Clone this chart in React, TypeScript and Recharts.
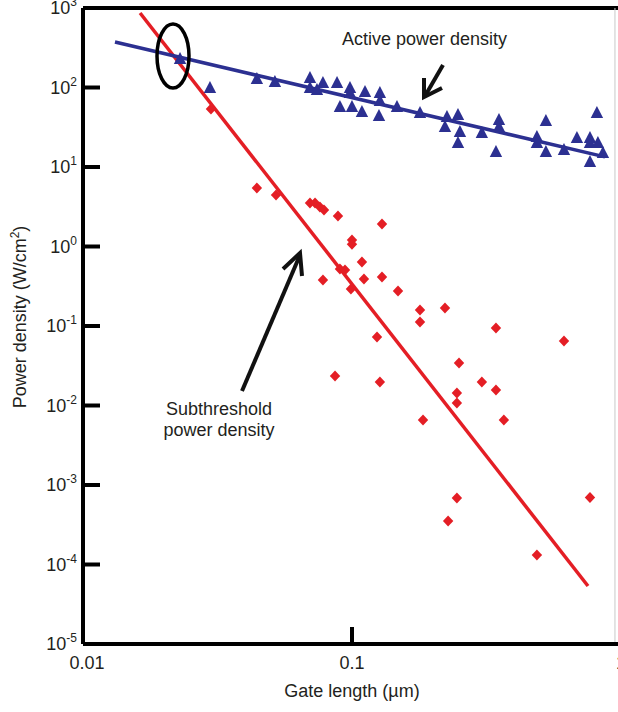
import React from 'react';
import { ScatterChart, Scatter, XAxis, YAxis, ReferenceLine } from 'recharts';

// ---- tick definitions ----
const xTicks = [0.01, 0.1, 1];
const xTickLabels = ['0.01', '0.1', '1'];
const yTicks = [1e-5, 1e-4, 1e-3, 1e-2, 1e-1, 1, 10, 100, 1000];
const yTickExponents = ['-5', '-4', '-3', '-2', '-1', '0', '1', '2', '3'];

// ---- subthreshold power density (red diamonds) ----
const subGateLength = [
  0.0299, 0.0443, 0.0522, 0.0698, 0.0729, 0.076, 0.0787, 0.0887, 0.1293, 0.1, 0.1,
  0.1089, 0.0902, 0.0942, 0.078, 0.1108, 0.1293, 0.0991, 0.1483, 0.179, 0.179, 0.1239,
  0.0865, 0.127, 0.2217, 0.343, 0.614, 0.25, 0.304, 0.343, 0.2455, 0.2455, 0.1837,
  0.367, 0.2455, 0.767, 0.2277, 0.487,
];
const subPower = [
  53.7, 5.44, 4.44, 3.53, 3.53, 3.14, 2.88, 2.42, 1.92, 1.21, 1.07,
  0.638, 0.521, 0.508, 0.379, 0.39, 0.413, 0.292, 0.275, 0.159, 0.112, 0.0728,
  0.0235, 0.0198, 0.168, 0.0944, 0.0648, 0.0343, 0.0198, 0.0157, 0.01436, 0.01075, 0.00657,
  0.00657, 6.86e-4, 6.96e-4, 3.52e-4, 1.32e-4,
];

// ---- active power density (blue triangles) ----
const actGateLength = [
  0.02295, 0.02965, 0.0443, 0.0517, 0.0698, 0.0698, 0.0741, 0.078, 0.088, 0.0983, 0.0983,
  0.1118, 0.0902, 0.1, 0.1089, 0.127, 0.127, 0.126, 0.147, 0.179, 0.2255, 0.2217,
  0.2478, 0.252, 0.2478, 0.304, 0.352, 0.352, 0.343, 0.487, 0.487, 0.526, 0.526,
  0.614, 0.686, 0.767, 0.767, 0.821, 0.814, 0.857, 0.767,
];
const actPower = [
  228, 98.6, 128, 117, 132, 98.6, 93, 114, 114, 98.6, 85.3,
  87.8, 56.8, 56.8, 49.2, 85.3, 67.7, 43.8, 56.8, 47.8, 42.6, 31.9,
  45.1, 27.6, 20, 26.8, 39, 31.9, 15.4, 23.8, 20, 37.9, 15.4,
  16.4, 23.2, 23.2, 20, 20, 47.8, 15, 11.6,
];

// ---- fitted trend lines ----
const subFitGateLength = [0.0163, 0.754];
const subFitPower = [865, 5.37e-5];
const actFitGateLength = [0.01315, 0.872];
const actFitPower = [373, 13.4];

const zip = (xs: number[], ys: number[]) => xs.map((x, i) => ({ x, y: ys[i] }));
const subData = zip(subGateLength, subPower);
const actData = zip(actGateLength, actPower);
const subFit = zip(subFitGateLength, subFitPower);
const actFit = zip(actFitGateLength, actFitPower);

const RED = '#e41e25';
const BLUE = '#2c3091';
const TEXT = '#231f20';
const FONT = '"Liberation Sans", Arial, Helvetica, sans-serif';

const Diamond = (p: any) => {
  const { cx, cy } = p;
  if (cx == null || cy == null) return <g />;
  return (
    <polygon
      points={`${cx},${cy - 5.5} ${cx + 5.2},${cy} ${cx},${cy + 5.5} ${cx - 5.2},${cy}`}
      fill={RED}
    />
  );
};

const Triangle = (p: any) => {
  const { cx, cy } = p;
  if (cx == null || cy == null) return <g />;
  return (
    <polygon
      points={`${cx},${cy - 7} ${cx + 6.2},${cy + 5} ${cx - 6.2},${cy + 5}`}
      fill={BLUE}
    />
  );
};

const NoShape = () => <g />;

const YTick = (p: any) => {
  const { x, y, payload } = p;
  const i = yTicks.findIndex((v) => Math.abs(Math.log10(v) - Math.log10(payload.value)) < 1e-6);
  return (
    <g>
      <line x1={x} x2={x + 17} y1={y} y2={y} stroke="#000" strokeWidth={4} />
      <text x={x - 6} y={y + 6} textAnchor="end" fontSize={18} fill={TEXT} fontFamily={FONT}>
        10
        <tspan dy={-8} fontSize={12}>
          {i >= 0 ? yTickExponents[i] : ''}
        </tspan>
      </text>
    </g>
  );
};

const XTick = (p: any) => {
  const { x, y, payload } = p;
  const i = xTicks.findIndex((v) => Math.abs(Math.log10(v) - Math.log10(payload.value)) < 1e-6);
  return (
    <g>
      {i === 1 && <line x1={x} x2={x} y1={y} y2={y - 17} stroke="#000" strokeWidth={4} />}
      <text x={x + (i === 0 ? 4 : 0)} y={y + 25} textAnchor="middle" fontSize={18} fill={TEXT} fontFamily={FONT}>
        {i >= 0 ? xTickLabels[i] : ''}
      </text>
    </g>
  );
};

export default function App() {
  return (
    <div style={{ position: 'absolute', left: 0, top: 0, width: 618, height: 712, background: '#fff' }}>
      <ScatterChart width={618} height={712} margin={{ top: 8, right: 0, bottom: 0, left: 0 }}>
        <XAxis
          type="number"
          dataKey="x"
          scale="log"
          domain={[0.01, 0.975]}
          allowDataOverflow
          ticks={xTicks}
          interval={0}
          tickSize={0}
          tickMargin={0}
          tickLine={false}
          axisLine={{ stroke: '#000', strokeWidth: 4 }}
          tick={<XTick />}
          height={68}
        />
        <YAxis
          type="number"
          dataKey="y"
          scale="log"
          domain={[1e-5, 1000]}
          allowDataOverflow
          ticks={yTicks}
          interval={0}
          tickSize={0}
          tickMargin={0}
          tickLine={false}
          axisLine={{ stroke: '#000', strokeWidth: 4 }}
          tick={<YTick />}
          width={83}
        />
        <ReferenceLine y={1000} stroke="#000" strokeWidth={4} />
        <ReferenceLine x={0.95} stroke="#c8c8c8" strokeWidth={1} />
        <Scatter
          data={subFit}
          line={{ stroke: RED, strokeWidth: 3.5 }}
          lineType="joint"
          shape={<NoShape />}
          isAnimationActive={false}
        />
        <Scatter data={subData} shape={<Diamond />} isAnimationActive={false} />
        <Scatter
          data={actFit}
          line={{ stroke: BLUE, strokeWidth: 3.5 }}
          lineType="joint"
          shape={<NoShape />}
          isAnimationActive={false}
        />
        <Scatter data={actData} shape={<Triangle />} isAnimationActive={false} />
      </ScatterChart>
      <svg
        width={618}
        height={712}
        style={{ position: 'absolute', left: 0, top: 0, pointerEvents: 'none' }}
        fontFamily={FONT}
      >
        <text
          transform="translate(26,317) rotate(-90)"
          textAnchor="middle"
          fontSize={18}
          fill={TEXT}
        >
          Power density (W/cm
          <tspan dy={-7} fontSize={12}>2</tspan>
          <tspan dy={7}>)</tspan>
        </text>
        <text x={352} y={697} textAnchor="middle" fontSize={18} fill={TEXT}>
          Gate length (µm)
        </text>
        <text x={342} y={45} fontSize={18} fill={TEXT}>
          Active power density
        </text>
        <text x={219} y={415} textAnchor="middle" fontSize={18} fill={TEXT}>
          Subthreshold
        </text>
        <text x={219} y={436} textAnchor="middle" fontSize={18} fill={TEXT}>
          power density
        </text>
        <ellipse cx={173} cy={56} rx={16} ry={32} fill="none" stroke="#000" strokeWidth={3.5} />
        <path d="M443 65 L425 96" stroke="#111" strokeWidth={4} fill="none" />
        <path d="M424 78 L424 97 L442 88" stroke="#111" strokeWidth={4} fill="none" strokeLinejoin="miter" />
        <path d="M242 391 L300 255" stroke="#111" strokeWidth={4} fill="none" />
        <path d="M283 269 L300 253 L302 276" stroke="#111" strokeWidth={4} fill="none" strokeLinejoin="miter" />
      </svg>
    </div>
  );
}
